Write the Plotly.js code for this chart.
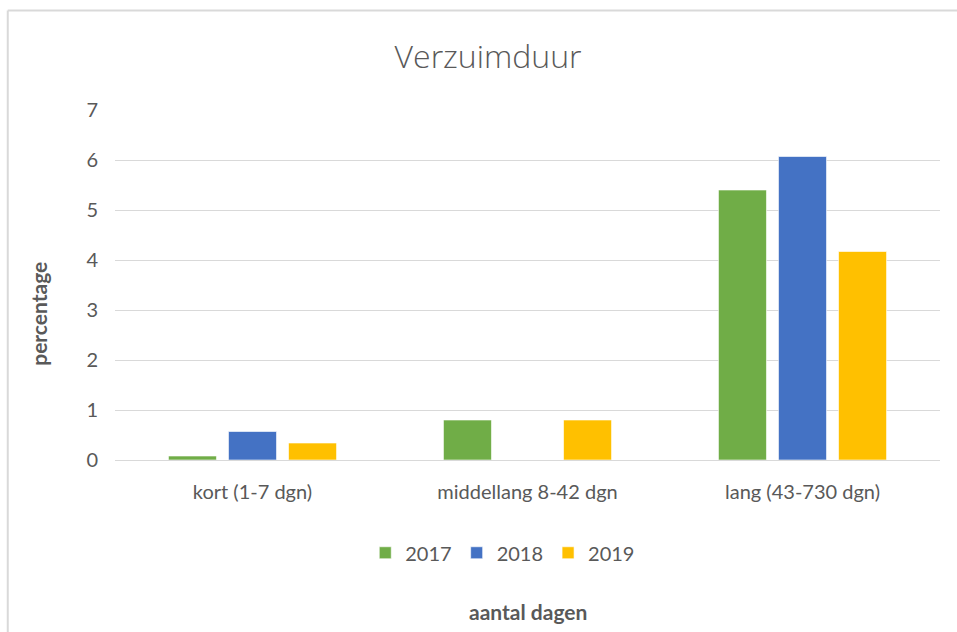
<!DOCTYPE html>
<html>
<head>
<meta charset="utf-8">
<script src="https://cdn.plot.ly/plotly-3.0.1.min.js"></script>
<style>
html,body{margin:0;padding:0;background:#fff;}
#chart{width:957px;height:632px;}
</style>
</head>
<body>
<div id="chart"></div>
<script>
const categories = ["kort (1-7 dgn)", "middellang 8-42 dgn", "lang (43-730 dgn)"];
const years = ["2017", "2018", "2019"];
const values2017 = [0.08, 0.8, 5.4];
const values2018 = [0.57, 0, 6.07];
const values2019 = [0.34, 0.8, 4.17];
const colors = ["#70AD47", "#4472C4", "#FFC000"];
const yTicks = [0, 1, 2, 3, 4, 5, 6, 7];

const series = [values2017, values2018, values2019];
const FONT = "Lato, 'Open Sans', sans-serif";
const data = series.map((vals, i) => ({
  type: "bar",
  name: years[i],
  x: categories,
  y: vals,
  marker: {color: colors[i], line: {color: "rgba(255,255,255,0.6)", width: 1}},
  hoverinfo: "none"
}));

const layout = {
  width: 957, height: 632,
  margin: {l: 115, r: 17, t: 110, b: 172},
  paper_bgcolor: "#fff", plot_bgcolor: "#fff",
  font: {family: FONT, color: "#595959", size: 20},
  title: {text: "Verzuimduur", font: {family: "'Open Sans', Lato, sans-serif", size: 32, color: "#595959", weight: 300}, x: 0.51, xanchor: "center", y: 0.91, yanchor: "middle"},
  barmode: "group",
  bargap: 0.345,
  bargroupgap: 0.2,
  showlegend: true,
  legend: {orientation: "h", x: 0.47, xanchor: "center", y: -0.265, yanchor: "middle", font: {size: 20, color: "#595959"}, itemwidth: 30, traceorder: "normal"},
  xaxis: {
    type: "category",
    showgrid: false, zeroline: false, showline: true, linecolor: "#d9d9d9", linewidth: 1,
    ticks: "", tickfont: {size: 20, color: "#595959"}, ticklabelstandoff: 14
  },
  yaxis: {
    range: [0, 7], tickvals: yTicks, ticktext: yTicks.map(String),
    showgrid: true, gridcolor: "#d9d9d9", gridwidth: 1, zeroline: false,
    showline: false, ticks: "", tickfont: {size: 20, color: "#595959"}, ticklabelstandoff: 16
  },
  annotations: [
    {text: "aantal dagen", xref: "paper", yref: "paper", x: 0.5, y: -0.434, xanchor: "center", yanchor: "middle", showarrow: false, font: {size: 21, color: "#595959", weight: "bold"}},
    {text: "percentage", xref: "paper", yref: "paper", x: -0.092, y: 0.418, xanchor: "center", yanchor: "middle", textangle: -90, showarrow: false, font: {size: 21, color: "#595959", weight: "bold"}}
  ],
  shapes: [
    {type: "line", xref: "paper", yref: "paper", x0: -0.13, x1: 1.1, y0: 1.2843, y1: 1.2843, line: {color: "#d9d9d9", width: 2}},
    {type: "line", xref: "paper", yref: "paper", x0: -0.13, x1: -0.13, y0: 1.2843, y1: -0.6, line: {color: "#d9d9d9", width: 2}}
  ]
};

Plotly.newPlot("chart", data, layout, {staticPlot: true, displayModeBar: false});
</script>
</body>
</html>
